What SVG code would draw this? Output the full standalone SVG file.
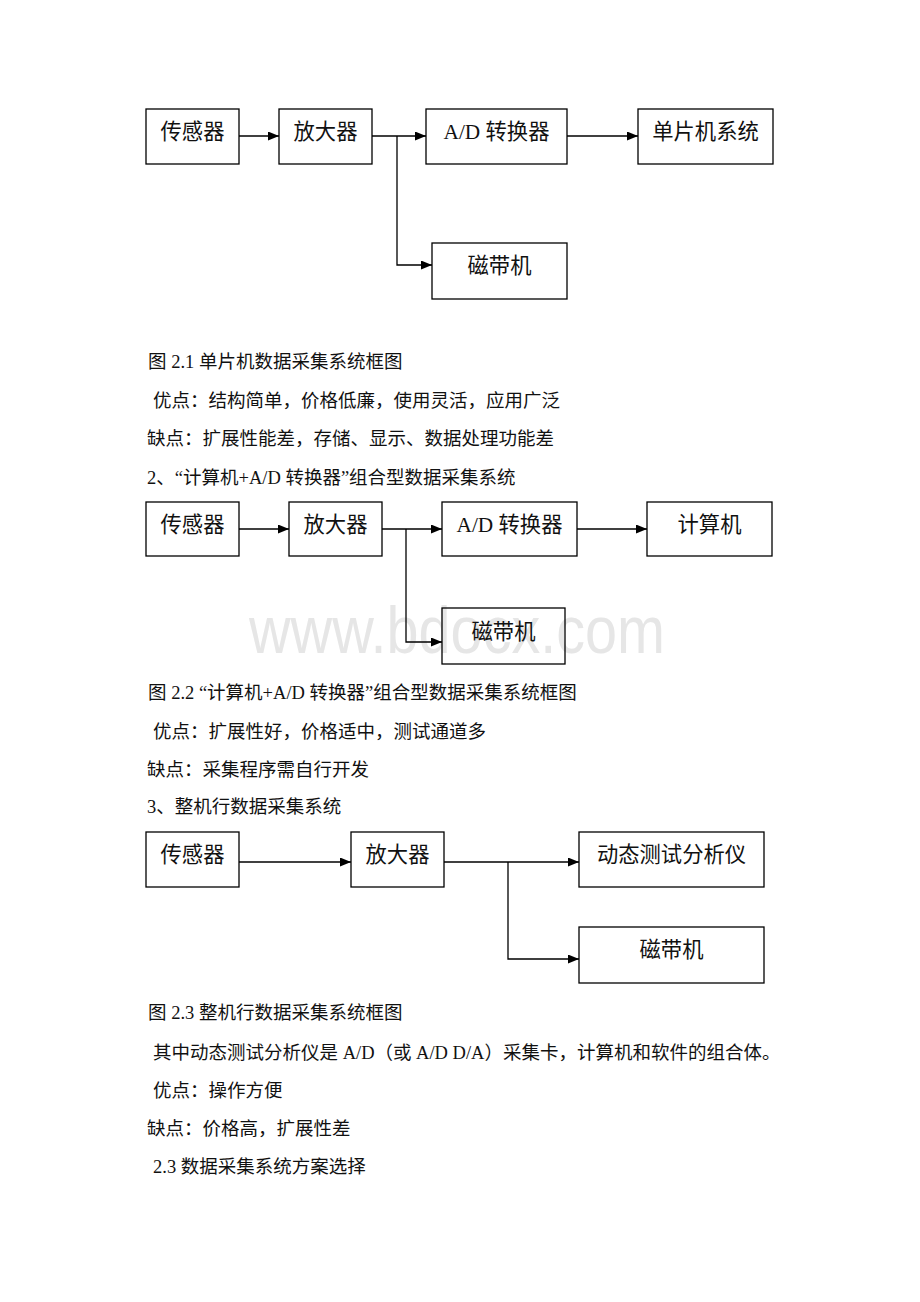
<svg xmlns="http://www.w3.org/2000/svg" width="920" height="1302" viewBox="0 0 920 1302">
<style>
.bx{fill:none;stroke:#000;stroke-width:1.3}
.bt{font-family:"Liberation Serif","Noto Sans CJK SC",serif;font-size:21.3px;fill:#111;text-anchor:middle}
.tx{font-family:"Liberation Serif","Noto Sans CJK SC",serif;font-size:18.5px;fill:#111}
.ln{fill:none;stroke:#000;stroke-width:1.3}
.wm{font-family:"Liberation Sans",Arial,sans-serif;font-size:66px;fill:#e6e6e6}
</style>
<defs>
<marker id="ah" markerUnits="userSpaceOnUse" markerWidth="12" markerHeight="10" refX="11" refY="4.5" orient="auto">
<path d="M0,0 L11,4.5 L0,9 z" fill="#000"/>
</marker>
</defs>
<rect width="920" height="1302" fill="#fff"/>
<text class="wm" x="249" y="653" textLength="416" lengthAdjust="spacingAndGlyphs">www.bdocx.com</text>

<g id="d1-sensor"><rect class="bx" x="146" y="109" width="93" height="55"/><text class="bt" x="192.5" y="139">传感器</text></g>
<g id="d1-amp"><rect class="bx" x="279" y="109" width="93" height="55"/><text class="bt" x="325.5" y="139">放大器</text></g>
<g id="d1-ad"><rect class="bx" x="426" y="109" width="141" height="55"/><text class="bt" x="496.5" y="139">A/D 转换器</text></g>
<g id="d1-mcu"><rect class="bx" x="638" y="109" width="135" height="55"/><text class="bt" x="705.5" y="139">单片机系统</text></g>
<g id="d1-tape"><rect class="bx" x="432" y="243" width="135" height="56"/><text class="bt" x="499.5" y="273">磁带机</text></g>

<g id="d2-sensor"><rect class="bx" x="146" y="502" width="93" height="54"/><text class="bt" x="192.5" y="532">传感器</text></g>
<g id="d2-amp"><rect class="bx" x="289" y="502" width="93" height="54"/><text class="bt" x="335.5" y="532">放大器</text></g>
<g id="d2-ad"><rect class="bx" x="442" y="502" width="135" height="54"/><text class="bt" x="509.5" y="532">A/D 转换器</text></g>
<g id="d2-pc"><rect class="bx" x="647" y="502" width="125" height="54"/><text class="bt" x="709.5" y="532">计算机</text></g>
<g id="d2-tape"><rect class="bx" x="442" y="608" width="123" height="56"/><text class="bt" x="503.5" y="639">磁带机</text></g>

<g id="d3-sensor"><rect class="bx" x="146" y="832" width="93" height="55"/><text class="bt" x="192.5" y="862">传感器</text></g>
<g id="d3-amp"><rect class="bx" x="351" y="832" width="93" height="55"/><text class="bt" x="397.5" y="862">放大器</text></g>
<g id="d3-analyzer"><rect class="bx" x="579" y="832" width="185" height="55"/><text class="bt" x="671.5" y="862">动态测试分析仪</text></g>
<g id="d3-tape"><rect class="bx" x="579" y="927" width="185" height="56"/><text class="bt" x="671.5" y="957">磁带机</text></g>

<g id="connectors">
<line class="ln" x1="239" y1="136" x2="279" y2="136" marker-end="url(#ah)"/>
<line class="ln" x1="372" y1="136" x2="426" y2="136" marker-end="url(#ah)"/>
<polyline class="ln" points="397,136 397,265 432,265" marker-end="url(#ah)"/>
<line class="ln" x1="567" y1="136" x2="638" y2="136" marker-end="url(#ah)"/>

<line class="ln" x1="239" y1="529" x2="289" y2="529" marker-end="url(#ah)"/>
<line class="ln" x1="382" y1="529" x2="442" y2="529" marker-end="url(#ah)"/>
<polyline class="ln" points="406,529 406,642 442,642" marker-end="url(#ah)"/>
<line class="ln" x1="577" y1="529" x2="647" y2="529" marker-end="url(#ah)"/>

<line class="ln" x1="239" y1="862" x2="351" y2="862" marker-end="url(#ah)"/>
<line class="ln" x1="444" y1="862" x2="579" y2="862" marker-end="url(#ah)"/>
<polyline class="ln" points="508,862 508,959 579,959" marker-end="url(#ah)"/>
</g>

<g id="body-text">
<text class="tx" x="148" y="368">图 2.1 单片机数据采集系统框图</text>
<text class="tx" x="153" y="407">优点：结构简单，价格低廉，使用灵活，应用广泛</text>
<text class="tx" x="147" y="445">缺点：扩展性能差，存储、显示、数据处理功能差</text>
<text class="tx" x="147" y="484">2、“计算机+A/D 转换器”组合型数据采集系统</text>
<text class="tx" x="148" y="699">图 2.2 “计算机+A/D 转换器”组合型数据采集系统框图</text>
<text class="tx" x="153" y="738">优点：扩展性好，价格适中，测试通道多</text>
<text class="tx" x="147" y="776">缺点：采集程序需自行开发</text>
<text class="tx" x="147" y="813">3、整机行数据采集系统</text>
<text class="tx" x="148" y="1019">图 2.3 整机行数据采集系统框图</text>
<text class="tx" x="153" y="1059">其中动态测试分析仪是 A/D（或 A/D D/A）采集卡，计算机和软件的组合体。</text>
<text class="tx" x="153" y="1097">优点：操作方便</text>
<text class="tx" x="147" y="1135">缺点：价格高，扩展性差</text>
<text class="tx" x="153" y="1173">2.3 数据采集系统方案选择</text>
</g>
</svg>
